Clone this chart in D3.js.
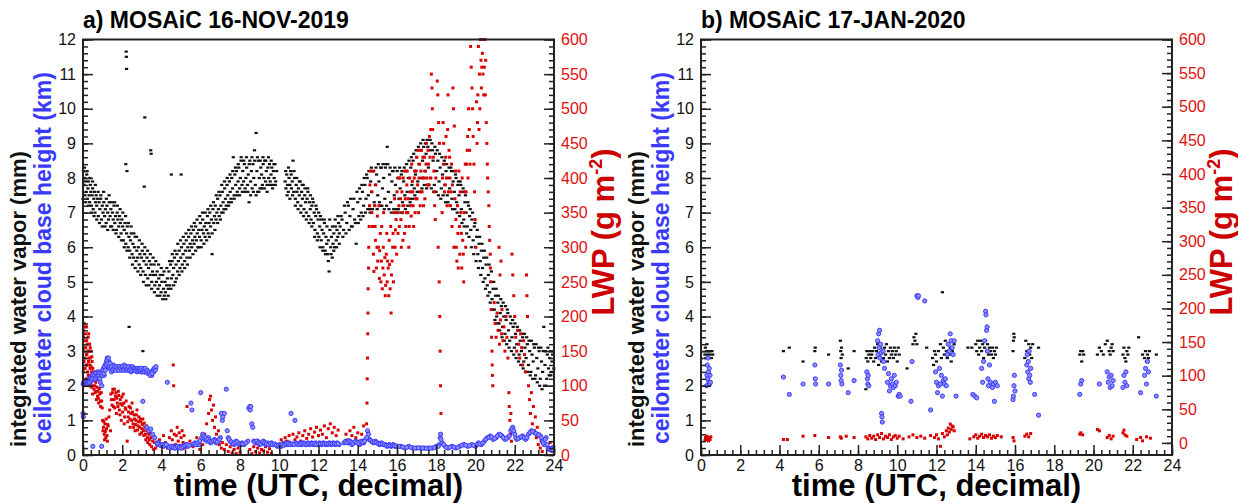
<!DOCTYPE html>
<html>
<head>
<meta charset="utf-8">
<script src="https://cdn.jsdelivr.net/npm/d3@7"></script>
<style>
  body { margin: 0; background: #fff; }
  svg text { font-family: "Liberation Sans", Arial, sans-serif; }
</style>
</head>
<body>
<div id="chart"></div>
<script>
// tick labels
const iwvTicks = [0, 1, 2, 3, 4, 5, 6, 7, 8, 9, 10, 11, 12];
const lwpTicks = [0, 50, 100, 150, 200, 250, 300, 350, 400, 450, 500, 550, 600];
const timeTicks = [0, 2, 4, 6, 8, 10, 12, 14, 16, 18, 20, 22, 24];

// a) 16-NOV-2019 : integrated water vapor (mm), [time, value]
const iwvA = [[0.02,8.2],[0.05,7.8],[0.08,8.0],[0.10,7.5],[0.13,7.9],[0.16,7.6],[0.19,8.1],[0.22,7.4],[0.25,7.7],[0.28,7.9],[0.31,7.5],[0.34,7.3],[0.37,7.8],[0.40,7.6],[0.43,7.2],[0.46,7.5],[0.49,7.7],[0.52,7.1],[0.55,7.4],[0.58,7.6],[0.61,7.0],[0.64,7.3],[0.67,7.5],[0.70,7.2],[0.74,7.4],[0.78,6.9],[0.82,7.3],[0.86,7.1],[0.90,7.4],[0.94,6.8],[0.98,7.2],[1.02,7.0],[1.06,7.3],[1.10,6.9],[1.14,7.1],[1.18,6.7],[1.22,7.2],[1.26,7.0],[1.30,6.8],[1.34,7.3],[1.38,6.9],[1.42,7.1],[1.46,6.6],[1.50,7.0],[1.54,6.8],[1.58,7.2],[1.62,6.7],[1.66,6.9],[1.70,6.5],[1.74,7.0],[1.78,6.8],[1.82,6.6],[1.86,6.9],[1.90,6.7],[1.94,6.4],[1.98,6.8],[2.02,6.6],[2.06,6.2],[2.10,6.5],[2.14,6.7],[2.18,6.1],[2.22,6.4],[2.26,6.6],[2.30,6.0],[2.34,6.3],[2.38,5.9],[2.42,6.2],[2.46,6.4],[2.50,5.8],[2.54,6.1],[2.58,5.7],[2.62,6.0],[2.66,6.3],[2.70,5.6],[2.74,5.9],[2.78,5.7],[2.82,6.0],[2.86,5.5],[2.90,5.8],[2.94,5.4],[2.98,5.7],[3.02,5.9],[3.06,5.3],[3.10,5.6],[3.14,5.8],[3.18,5.2],[3.22,5.5],[3.26,5.7],[3.30,5.1],[3.34,5.4],[3.38,5.6],[3.42,5.2],[3.46,5.5],[3.50,5.0],[3.54,5.3],[3.58,5.2],[3.62,5.5],[3.66,4.9],[3.70,5.2],[3.74,5.0],[3.78,5.3],[3.82,4.8],[3.86,5.1],[3.90,4.9],[3.94,5.2],[3.98,4.7],[4.02,5.0],[4.06,5.2],[4.10,4.8],[4.14,4.6],[4.18,5.0],[4.22,4.5],[4.26,4.9],[4.30,5.1],[4.34,4.8],[4.38,5.3],[4.42,4.9],[4.46,5.5],[4.50,5.1],[4.54,5.6],[4.58,5.2],[4.62,5.4],[4.66,5.7],[4.70,5.0],[4.74,5.5],[4.78,5.8],[4.82,5.3],[4.86,5.6],[4.90,5.9],[4.94,5.4],[4.98,5.7],[5.02,6.0],[5.06,5.5],[5.10,5.8],[5.14,6.1],[5.18,5.6],[5.22,5.9],[5.26,6.2],[5.30,5.7],[5.34,6.0],[5.38,6.3],[5.42,5.9],[5.46,6.1],[5.50,6.4],[5.54,6.0],[5.58,6.2],[5.62,6.5],[5.66,6.1],[5.70,6.3],[5.74,6.6],[5.78,6.2],[5.82,6.4],[5.86,6.0],[5.90,6.5],[5.94,6.3],[5.98,6.7],[6.02,6.2],[6.06,6.5],[6.10,6.8],[6.14,6.4],[6.18,6.6],[6.22,6.3],[6.26,6.7],[6.30,6.5],[6.34,6.9],[6.38,6.4],[6.42,6.7],[6.46,7.0],[6.50,6.6],[6.54,6.8],[6.58,5.8],[6.62,7.1],[6.66,6.7],[6.70,6.9],[6.74,7.2],[6.78,6.8],[6.82,7.0],[6.86,7.4],[6.90,7.1],[6.94,6.9],[6.98,7.5],[7.02,7.2],[7.06,7.0],[7.10,7.6],[7.14,7.3],[7.18,7.1],[7.22,7.7],[7.26,7.4],[7.30,7.2],[7.34,7.8],[7.38,7.5],[7.42,7.3],[7.46,7.9],[7.50,7.6],[7.54,7.4],[7.58,8.0],[7.62,7.7],[7.66,8.6],[7.70,7.5],[7.74,8.1],[7.78,7.8],[7.82,8.2],[7.86,7.6],[7.90,7.9],[7.94,8.3],[7.98,7.7],[8.02,8.0],[8.06,8.6],[8.10,7.8],[8.14,8.2],[8.18,7.9],[8.22,8.4],[8.26,7.6],[8.30,8.0],[8.34,8.3],[8.38,7.8],[8.42,8.1],[8.46,7.3],[8.50,8.5],[8.54,7.9],[8.58,8.2],[8.62,7.7],[8.66,8.4],[8.70,8.0],[8.74,8.8],[8.78,7.8],[8.82,9.3],[8.86,8.2],[8.90,7.6],[8.94,8.5],[8.98,8.0],[9.02,7.7],[9.06,8.3],[9.10,8.1],[9.14,7.8],[9.18,8.4],[9.22,8.0],[9.26,8.5],[9.30,7.9],[9.34,8.2],[9.38,7.8],[9.42,8.3],[9.46,8.0],[9.50,8.4],[9.54,7.9],[9.58,8.1],[9.62,8.3],[9.66,7.8],[9.70,8.2],[9.74,8.0],[9.78,8.4],[9.82,7.9],
  [10.30,7.9],[10.34,7.7],[10.38,8.1],[10.42,7.8],[10.46,7.6],[10.50,8.0],[10.54,7.8],[10.58,8.2],[10.62,7.7],[10.66,7.9],[10.70,8.5],[10.74,7.6],[10.78,8.0],[10.82,7.4],[10.86,7.8],[10.90,7.6],[10.94,7.3],[10.98,7.7],[11.02,7.5],[11.06,7.9],[11.10,7.2],[11.14,7.6],[11.18,7.4],[11.22,7.8],[11.26,7.1],[11.30,7.5],[11.34,7.3],[11.38,7.0],[11.42,7.4],[11.46,7.6],[11.50,6.9],[11.54,7.3],[11.58,7.1],[11.62,6.8],[11.66,7.2],[11.70,7.4],[11.74,6.7],[11.78,7.0],[11.82,6.5],[11.86,6.9],[11.90,7.1],[11.94,6.4],[11.98,6.8],[12.02,6.3],[12.06,6.6],[12.10,6.9],[12.14,6.2],[12.18,6.5],[12.22,6.0],[12.26,6.4],[12.30,6.7],[12.34,5.9],[12.38,6.3],[12.42,6.1],[12.46,5.8],[12.50,6.2],[12.54,5.3],[12.58,6.5],[12.62,6.0],[12.66,6.3],[12.70,5.7],[12.74,6.1],[12.78,6.4],[12.82,6.0],[12.86,6.6],[12.90,6.2],[12.94,6.5],[12.98,6.3],[13.02,6.7],[13.06,6.4],[13.10,6.6],
  [13.20,6.8],[13.28,6.5],[13.36,7.0],[13.44,6.7],[13.52,7.2],[13.60,6.9],[13.68,6.6],[13.76,7.1],[13.84,6.8],[13.92,6.1],[14.00,7.3],[14.06,6.9],[14.12,7.4],[14.18,7.0],[14.24,7.6],[14.30,7.2],[14.36,7.8],[14.42,7.4],[14.48,8.0],[14.54,7.5],[14.60,7.1],[14.66,7.9],[14.72,7.6],[14.78,8.2],[14.84,7.3],[14.90,7.8],[14.96,8.1],[15.02,7.5],[15.08,7.9],[15.14,7.2],[15.20,8.3],[15.26,7.7],[15.32,8.0],[15.38,7.4],[15.44,8.4],[15.50,8.9],[15.56,7.6],[15.62,8.1],[15.68,7.3],[15.74,7.9],[15.80,8.2],[15.86,7.5],[15.92,7.8],[15.98,7.1],[16.04,8.0],[16.10,7.4],[16.16,7.7],[16.22,8.1],[16.28,7.3],[16.34,7.9],[16.40,7.5],[16.46,8.2],[16.52,7.6],[16.58,8.0],[16.64,7.4],[16.70,8.3],[16.76,7.8],[16.82,8.5],[16.88,7.7],[16.94,8.1],[17.00,8.6],[17.06,7.9],[17.12,8.4],[17.18,8.8],[17.24,8.0],[17.30,8.5],[17.36,8.9],[17.42,8.2],[17.48,8.7],[17.54,9.1],[17.60,8.3],[17.66,8.8],[17.72,8.0],[17.78,9.0],[17.84,8.5],[17.90,7.8],[17.96,8.7],[18.02,8.2],[18.08,8.5],[18.14,7.9],[18.20,8.3],[18.26,7.7],[18.32,8.1],[18.38,8.4],[18.44,7.8],[18.50,8.2],[18.56,7.5],[18.62,8.0],[18.68,7.7],[18.74,8.3],[18.80,7.4],[18.86,7.9],[18.92,7.6],[18.98,8.1],[19.04,7.3],[19.10,7.8],[19.16,7.5],[19.22,7.9],[19.28,7.1],[19.34,7.6],[19.40,6.8],[19.46,7.3],[19.52,7.0],[19.58,6.6],[19.64,7.2],[19.70,6.9],[19.76,6.5],[19.82,6.8],[19.88,6.2],[19.94,6.6],[20.00,6.0],[20.06,6.3],[20.12,5.8],[20.18,6.1],[20.24,5.6],[20.30,5.9],[20.36,5.4],[20.42,5.7],[20.48,5.1],[20.54,5.5],[20.60,4.9],[20.66,5.2],[20.72,4.7],[20.78,5.0],[20.84,4.5],[20.90,4.8],[20.96,4.2],[21.02,4.6],[21.08,4.0],[21.14,4.4],[21.20,3.8],[21.26,4.1],[21.32,4.3],[21.38,3.7],[21.44,4.0],[21.50,3.5],[21.56,3.9],[21.62,4.2],[21.68,3.6],[21.74,3.3],[21.80,3.8],[21.86,3.4],[21.92,3.7],[21.98,3.1],[22.04,3.5],[22.10,3.2],[22.16,3.6],[22.22,2.9],[22.28,3.3],[22.34,3.0],[22.40,3.4],[22.46,2.7],[22.52,3.1],[22.58,2.8],[22.64,3.2],[22.70,2.6],[22.76,3.0],[22.82,2.4],[22.88,2.9],[22.94,2.7],[23.00,3.1],[23.06,2.3],[23.12,2.8],[23.18,2.5],[23.24,3.0],[23.30,2.2],[23.36,2.7],[23.42,2.4],[23.48,3.7],[23.54,2.6],[23.60,2.0],[23.66,2.9],[23.72,2.5],[23.78,2.8],[23.84,2.3],[23.90,2.7],[23.96,3.0],
  [2.20,11.65],[2.21,11.5],[2.22,11.15],[2.18,8.4],[2.24,8.2],[3.15,9.75],[3.45,8.8],[3.47,8.7],[3.12,7.75],[4.50,8.1],[5.00,8.1],[2.35,3.7],[3.05,3.0],
  [0.00,7.4],[0.07,8.3],[0.14,7.3],[0.21,8.2],[0.28,7.2],[0.35,8.0],[0.42,7.0],[0.49,7.9],[0.56,6.9],[0.63,7.8],[0.70,6.8],[0.77,7.6],[0.84,6.7],[0.91,7.5],[0.98,6.6],[1.05,7.6],[1.12,6.6],[1.19,7.4],[1.26,6.5],[1.33,7.5],[1.40,6.6],[1.47,7.3],[1.54,6.5],[1.61,7.3],[1.68,6.4],[1.75,7.2],[1.82,6.3],[1.89,7.1],[1.96,6.2],[2.03,7.0],[2.10,6.0],[2.17,6.9],[2.24,5.9],[2.31,6.7],[2.38,5.7],[2.45,6.6],[2.52,5.5],[2.59,6.4],[2.66,5.4],[2.73,6.3],[2.80,5.3],[2.87,6.2],[2.94,5.2],[3.01,6.1],[3.08,5.0],[3.15,6.0],[3.22,4.9],[3.29,5.9],[3.36,4.9],[3.43,5.8],[3.50,4.8],[3.57,5.7],[3.64,4.7],[3.71,5.6],[3.78,4.6],[3.85,5.5],[3.92,4.6],[3.99,5.4],[4.06,4.5],[4.13,5.3],[4.20,4.7],[4.27,5.4],[4.34,4.6],[4.41,5.6],[4.48,4.8],[4.55,5.8],[4.62,4.9],[4.69,5.9],[4.76,5.1],[4.83,6.1],[4.90,5.2],[4.97,6.2],[5.04,5.3],[5.11,6.3],[5.18,5.4],[5.25,6.4],[5.32,5.5],[5.39,6.5],[5.46,5.7],[5.53,6.6],[5.60,5.8],[5.67,6.7],[5.74,5.9],[5.81,6.8],[5.88,6.0],[5.95,6.9],[6.02,6.0],[6.09,7.0],[6.16,6.1],[6.23,7.0],[6.30,6.2],[6.37,7.1],[6.44,6.3],[6.51,7.2],[6.58,6.4],[6.65,7.3],[6.72,6.5],[6.79,7.5],[6.86,6.7],[6.93,7.6],[7.00,6.8],[7.07,7.8],[7.14,7.0],[7.21,7.9],[7.28,7.1],[7.35,8.0],[7.42,7.2],[7.49,8.1],[7.56,7.3],[7.63,8.2],[7.70,7.4],[7.77,8.3],[7.84,7.5],[7.91,8.4],[7.98,7.5],[8.05,8.5],[8.12,7.6],[8.19,8.5],[8.26,7.7],[8.33,8.6],[8.40,7.6],[8.47,8.4],[8.54,7.5],[8.61,8.6],[8.68,7.6],[8.75,8.5],[8.82,7.5],[8.89,8.6],[8.96,7.6],[9.03,8.5],[9.10,7.7],[9.17,8.6],[9.24,7.7],[9.31,8.5],[9.38,7.6],[9.45,8.6],[9.52,7.8],[9.59,8.5],[9.66,7.7],[9.73,8.4],[9.80,7.8],[9.87,8.2],
  [10.33,8.2],[10.40,7.5],[10.47,8.3],[10.54,7.4],[10.61,8.1],[10.68,7.5],[10.75,8.2],[10.82,7.2],[10.89,8.0],[10.96,7.1],[11.03,7.9],[11.10,7.0],[11.17,7.8],[11.24,6.9],[11.31,7.7],[11.38,6.8],[11.45,7.7],[11.52,6.7],[11.59,7.5],[11.66,6.6],[11.73,7.3],[11.80,6.3],[11.87,7.2],[11.94,6.2],[12.01,7.0],[12.08,6.0],[12.15,6.8],[12.22,5.9],[12.29,6.8],[12.36,5.8],[12.43,6.6],[12.50,5.6],[12.57,6.8],[12.64,5.8],[12.71,6.6],[12.78,5.9],[12.85,6.8],[12.92,6.0],[12.99,6.9],[13.06,6.1],[13.15,6.9],[13.24,6.3],[13.32,7.2],[13.40,6.4],[13.48,7.3],[13.56,6.5],[13.64,7.4],[13.72,6.6],[13.80,7.4],[13.88,6.7],[13.96,7.6],[14.03,6.7],[14.09,7.7],[14.15,6.8],[14.21,7.8],[14.27,6.9],[14.33,8.0],[14.39,7.0],[14.45,8.1],[14.51,7.1],[14.57,8.2],[14.63,7.0],[14.69,8.3],[14.75,7.1],[14.81,8.2],[14.87,7.2],[14.93,8.3],[14.99,7.1],[15.05,8.4],[15.11,7.3],[15.17,8.3],[15.23,7.2],[15.29,8.4],[15.35,7.1],[15.41,8.3],[15.47,7.2],[15.53,8.4],[15.59,7.1],[15.65,8.3],[15.71,7.0],[15.77,8.2],[15.83,7.1],[15.89,8.3],[15.95,7.0],[16.01,8.2],[16.07,7.1],[16.13,8.3],[16.19,7.0],[16.25,8.2],[16.31,7.2],[16.37,8.3],[16.43,7.1],[16.49,8.4],[16.55,7.2],[16.61,8.5],[16.67,7.3],[16.73,8.6],[16.79,7.4],[16.85,8.7],[16.91,7.5],[16.97,8.8],[17.03,7.6],[17.09,8.9],[17.15,7.6],[17.21,9.0],[17.27,7.7],[17.33,9.1],[17.39,7.8],[17.45,9.0],[17.51,7.7],[17.57,8.9],[17.63,7.8],[17.69,9.1],[17.75,7.7],[17.81,8.8],[17.87,7.6],[17.93,8.9],[17.99,7.6],[18.05,8.8],[18.11,7.5],[18.17,8.7],[18.23,7.4],[18.29,8.6],[18.35,7.5],[18.41,8.5],[18.47,7.3],[18.53,8.4],[18.59,7.3],[18.65,8.3],[18.71,7.2],[18.77,8.2],[18.83,7.1],[18.89,8.2],[18.95,7.1],[19.01,8.0],[19.07,7.0],[19.13,7.9],[19.19,6.9],[19.25,7.8],[19.31,6.7],[19.37,7.7],[19.43,6.6],[19.49,7.5],[19.55,6.4],[19.61,7.3],[19.67,6.3],[19.73,7.1],[19.79,6.0],[19.85,7.0],[19.91,5.8],[19.97,6.7],[20.03,5.6],[20.09,6.5],[20.15,5.4],[20.21,6.3],[20.27,5.2],[20.33,6.1],[20.39,5.0],[20.45,5.9],[20.51,4.8],[20.57,5.7],[20.63,4.6],[20.69,5.5],[20.75,4.4],[20.81,5.3],[20.87,4.2],[20.93,5.0],[20.99,3.9],[21.05,4.8],[21.11,3.8],[21.17,4.6],[21.23,3.6],[21.29,4.5],[21.35,3.4],[21.41,4.4],[21.47,3.3],[21.53,4.3],[21.59,3.2],[21.65,4.1],[21.71,3.1],[21.77,4.0],[21.83,3.0],[21.89,3.9],[21.95,2.9],[22.01,3.8],[22.07,2.8],[22.13,3.7],[22.19,2.7],[22.25,3.6],[22.31,2.6],[22.37,3.5],[22.43,2.5],[22.49,3.5],[22.55,2.4],[22.61,3.4],[22.67,2.4],[22.73,3.3],[22.79,2.3],[22.85,3.3],[22.91,2.2],[22.97,3.2],[23.03,2.2],[23.09,3.2],[23.15,2.1],[23.21,3.1],[23.27,2.0],[23.33,3.1],[23.39,1.9],[23.45,3.0],[23.51,2.0],[23.57,3.0],[23.63,2.2],[23.69,3.1],[23.75,2.3],[23.81,3.0],[23.87,2.4],[23.93,2.9],[23.99,2.5]];

// a) liquid water path (g m-2)
const lwpA = [[0.02,180],[0.04,150],[0.06,190],[0.08,165],[0.10,140],[0.12,175],[0.14,155],[0.16,130],[0.18,185],[0.20,145],[0.22,160],[0.24,120],[0.26,170],[0.28,135],[0.30,150],[0.32,115],[0.34,160],[0.36,125],[0.38,140],[0.40,105],[0.42,150],[0.44,120],[0.46,135],[0.48,100],[0.50,125],[0.53,110],[0.56,95],[0.59,115],[0.62,90],[0.65,105],[0.68,80],[0.71,98],[0.74,85],[0.77,92],[0.80,75],[0.85,88],[0.90,70],[0.95,78],[1.00,50],[1.04,40],[1.08,30],[1.12,45],[1.16,25],[1.20,38],[1.24,20],[1.28,42],[1.32,55],[1.36,65],[1.40,35],[1.45,80],[1.50,90],[1.55,70],[1.60,95],[1.65,85],[1.70,60],[1.75,75],[1.80,92],[1.85,65],[1.90,80],[1.95,50],[2.00,72],[2.05,88],[2.10,45],[2.15,68],[2.20,78],[2.25,20],[2.30,55],[2.35,70],[2.40,40],[2.45,60],[2.50,75],[2.55,45],[2.60,58],[2.65,35],[2.70,50],[2.75,65],[2.80,42],[2.85,55],[2.90,30],[2.95,48],[3.00,38],[3.05,52],[3.10,28],[3.15,40],[3.20,22],[3.25,35],[3.30,18],[3.35,30],[3.40,15],[3.45,25],[3.50,12],[3.55,20],[3.60,8],[3.65,18],[3.70,10],[3.80,15],[3.90,22],[4.00,12],[4.10,28],[4.20,18],[4.30,10],[4.40,25],[4.50,35],[4.55,22],[4.60,130],[4.62,100],[4.65,30],[4.70,15],[4.75,28],[4.80,40],[4.85,20],[4.90,32],[4.95,12],[5.00,25],[5.05,35],[5.10,18],[5.15,28],[5.20,10],[5.30,70],[5.45,20],[5.60,12],[5.80,25],[5.95,8],[6.10,15],[6.20,30],[6.30,45],[6.40,60],[6.45,80],[6.50,85],[6.55,65],[6.60,50],[6.65,72],[6.70,40],[6.75,55],[6.80,30],[6.85,20],[6.90,35],[6.95,15],[7.00,25],[7.05,10],[7.10,18],[7.20,8],[7.30,15],[7.40,5],[7.50,12],[7.60,3],[7.70,8],[7.80,2],[7.90,10],[8.00,4],[8.50,8],[8.60,2],[8.70,12],[8.80,5],[8.90,10],[9.00,3],[9.10,8],[9.20,6],[9.30,12],[9.40,4],[9.50,9],[9.60,2],[10.00,15],[10.10,22],[10.20,18],[10.30,25],[10.40,20],[10.50,28],[10.60,17],[10.70,30],[10.80,22],[10.90,26],[11.00,32],[11.10,20],[11.20,28],[11.30,35],[11.40,24],[11.50,30],[11.60,38],[11.70,26],[11.80,33],[11.90,40],[12.00,28],[12.10,36],[12.20,30],[12.30,42],[12.40,25],[12.50,38],[12.60,45],[12.70,32],[12.80,40],[12.90,28],[13.00,36],[13.40,30],[13.50,22],[13.60,35],[13.70,28],[13.80,40],[13.90,25],[14.00,32],[14.10,20],[14.20,30],[14.30,42],
  [14.45,45],[14.47,75],[14.48,110],[14.50,140],[14.51,175],[14.52,205],[14.53,240],[14.55,270],[14.56,300],[14.58,330],[14.60,360],[14.62,390],[14.65,410],
  [14.70,380],[14.75,330],[14.80,290],[14.85,360],[14.90,310],[14.95,270],[15.00,345],[15.05,300],[15.10,255],[15.15,320],[15.20,280],[15.25,240],[15.30,300],[15.35,260],[15.40,230],[15.45,290],[15.50,250],[15.55,270],[15.60,310],[15.65,240],[15.70,205],[15.75,280],[15.80,320],[15.85,350],[15.90,300],[15.95,340],[16.00,380],[16.05,320],[16.10,360],[16.15,400],[16.20,340],[16.25,380],[16.30,310],[16.35,360],[16.40,410],[16.45,330],[16.50,390],[16.55,350],[16.60,300],[16.65,400],[16.70,360],[16.75,420],[16.80,380],[16.85,330],[16.90,410],[16.95,370],[17.00,430],[17.05,390],[17.10,350],[17.15,420],[17.20,380],[17.25,440],[17.30,400],[17.35,360],[17.40,430],[17.45,410],[17.50,450],[17.55,390],[17.60,420],[17.65,460],[17.70,400],[17.75,550],[17.78,530],[17.80,500],[17.82,470],[17.85,430],[17.90,380],[17.95,340],
  [18.05,540],[18.08,520],[18.12,480],[18.16,450],[18.10,300],[18.15,250],[18.18,200],[18.20,150],[18.22,100],[18.24,60],[18.25,30],
  [18.30,350],[18.35,480],[18.40,420],[18.45,390],[18.50,460],[18.55,360],[18.60,520],[18.65,440],[18.70,400],[18.75,380],[18.80,330],[18.85,530],[18.88,500],[18.92,475],[18.90,300],[18.95,370],[19.00,340],[19.05,280],[19.10,320],[19.15,410],[19.20,290],[19.25,350],[19.30,270],[19.35,310],[19.40,250],[19.45,380],[19.50,300],[19.55,420],[19.60,460],[19.65,500],[19.70,440],[19.75,590],[19.78,560],[19.82,530],[19.85,500],[19.88,460],[19.92,420],[19.95,380],[19.98,340],[20.02,300],[20.05,510],[20.10,480],[20.15,590],[20.20,550],[20.25,600],[20.28,570],[20.30,530],[20.35,580],[20.38,550],[20.40,600],[20.42,520],[20.45,560],[20.50,520],[20.55,480],
  [20.60,420],[20.65,380],[20.70,330],[20.75,290],[20.78,250],[20.80,210],[20.82,170],[20.85,130],[20.88,100],
  [20.95,220],[21.00,190],[21.05,170],[21.10,205],[21.15,180],[21.20,300],[21.22,160],[21.25,260],[21.27,195],[21.30,280],[21.33,175],[21.35,210],[21.40,165],[21.45,185],[21.50,150],[21.55,200],[21.60,170],[21.65,140],[21.70,90],[21.72,70],[21.75,50],[21.78,30],[21.80,60],[21.83,20],[21.86,290],[21.88,40],[21.90,260],[21.95,230],[22.00,200],[22.05,170],[22.10,150],[22.15,180],[22.20,160],[22.25,140],[22.30,175],[22.35,155],[22.40,130],[22.45,165],[22.50,145],[22.55,120],[22.60,260],[22.62,230],[22.65,200],[22.70,100],[22.75,80],[22.80,60],[22.85,90],[22.90,45],[22.95,70],[23.00,35],[23.05,55],[23.10,25],[23.15,40],[23.20,15],[23.25,30],[23.30,10],[23.35,20],[23.40,5],[23.50,15],[23.60,25],[23.70,10],[23.80,18],[23.90,5],[23.95,12],
  [0.01,120],[0.03,170],[0.05,135],[0.07,100],[0.09,155],[0.11,125],[0.13,185],[0.15,110],[0.17,145],[0.19,165],[0.21,130],[0.23,105],[0.25,150],[0.27,115],[0.29,175],[0.31,140],[0.33,100],[0.35,130],[0.37,155],[0.39,112],[0.41,128],[0.43,98],[0.45,142],[0.47,115],[0.49,88],[0.55,120],[0.60,100],[0.66,92],[0.72,110],[0.78,82],[0.83,96],[0.88,78],[0.93,90],[0.98,68],
  [1.02,35],[1.06,48],[1.10,22],[1.14,34],[1.18,52],[1.22,28],[1.26,44],[1.42,88],[1.48,72],[1.52,95],[1.58,80],[1.62,68],[1.68,90],[1.72,82],[1.78,70],[1.82,86],[1.88,58],[1.92,74],[1.98,84],[2.02,62],[2.08,75],[2.12,55],[2.18,66],[2.28,48],[2.32,62],[2.38,52],[2.42,68],[2.48,50],[2.52,62],[2.58,40],[2.62,52],[2.68,44],[2.72,58],[2.78,36],[2.82,48],[2.88,40],[2.92,52],[2.98,32],[3.02,44],[3.08,35],[3.12,46],[3.18,30],[3.22,42],[3.28,25],[3.32,36],[3.38,22],[3.42,32],
  [14.72,350],[14.78,410],[14.82,265],[14.88,330],[14.92,390],[14.98,300],[15.02,280],[15.08,360],[15.12,295],[15.18,250],[15.22,330],[15.28,270],[15.32,350],[15.38,285],[15.42,245],[15.48,320],[15.52,280],[15.58,230],[15.62,275],[15.68,330],[15.72,260],[15.78,300],[15.82,250],[15.88,370],[15.92,325],[15.98,290],[16.02,350],[16.08,400],[16.12,330],[16.18,370],[16.22,300],[16.28,350],[16.32,400],[16.38,320],[16.42,370],[16.48,350],[16.52,410],[16.58,370],[16.62,330],[16.68,380],[16.72,345],[16.78,395],[16.82,360],[16.88,400],[16.92,350],[16.98,410],[17.02,370],[17.08,440],[17.12,400],[17.18,360],[17.22,410],[17.28,380],[17.32,430],[17.38,400],[17.42,370],[17.48,420],[17.52,400],[17.58,440],[17.62,390],[17.68,430],[17.72,470],[17.88,410],[17.92,360],[17.98,400],
  [18.32,400],[18.38,450],[18.42,380],[18.48,430],[18.52,400],[18.58,470],[18.62,380],[18.68,430],[18.72,360],[18.78,420],[18.82,390],[18.98,410],[19.02,300],[19.08,360],[19.12,270],[19.18,330],[19.22,380],[19.28,320],[19.32,400],[19.38,290],[19.42,350],[19.48,420],[19.52,380],[19.58,440],[19.62,400],[19.68,470],[19.72,420],[20.08,450],[20.12,520],[20.18,470],[20.22,500],[20.32,560],[20.48,600],[20.52,570],[20.58,450],
  [20.62,400],[20.68,360],[20.72,310],[20.76,270],[20.84,150],[20.86,115]];

// a) ceilometer cloud base height (km)
const cbhA = [[0.00,1.2],[0.02,1.1],[0.03,2.05],[0.06,2.05],[0.09,2.1],[0.12,2.05],[0.15,2.1],[0.18,2.05],[0.21,2.1],[0.24,2.1],[0.27,2.15],[0.30,2.1],[0.33,2.2],[0.36,2.1],[0.40,2.25],[0.44,2.15],[0.48,2.3],[0.50,0.25],[0.52,2.2],[0.56,2.35],[0.60,2.25],[0.64,2.3],[0.68,2.2],[0.72,2.4],[0.76,2.3],[0.80,2.25],[0.84,2.4],[0.88,2.1],[0.92,2.3],[0.95,0.25],[0.96,2.0],[1.00,2.4],[1.04,2.5],[1.08,2.3],[1.12,2.6],[1.16,2.5],[1.20,2.7],[1.24,2.8],[1.28,2.6],[1.32,2.7],[1.36,2.5],[1.40,2.6],[1.45,2.4],[1.50,2.5],[1.55,2.6],[1.60,2.45],[1.65,2.55],[1.70,2.5],[1.75,2.45],[1.80,2.55],[1.85,2.5],[1.90,2.45],[1.95,2.55],[2.00,2.5],[2.05,2.5],[2.10,2.6],[2.15,2.45],[2.20,2.5],[2.25,2.55],[2.30,2.45],[2.35,2.5],[2.40,2.55],[2.45,2.4],[2.50,2.5],[2.55,2.45],[2.60,2.5],[2.65,2.45],[2.70,2.5],[2.75,2.4],[2.80,2.5],[2.85,2.45],[2.90,2.5],[2.95,2.4],[3.00,2.45],[3.05,1.55],[3.10,2.5],[3.15,2.4],[3.20,2.45],[3.25,0.8],[3.30,2.4],[3.35,0.7],[3.40,2.35],[3.45,0.75],[3.50,2.3],[3.55,0.6],[3.60,2.4],[3.65,0.5],[3.70,2.5],[3.75,0.35],[3.80,0.3],[3.85,0.35],[3.90,0.3],[4.00,0.3],[4.10,0.25],[4.20,0.3],[4.30,2.1],[4.35,0.25],[4.45,0.2],[4.55,0.25],[4.65,0.2],[4.75,0.25],[4.85,0.2],[4.95,0.25],[5.05,0.2],[5.15,0.25],[5.25,0.3],[5.35,0.25],[5.50,1.5],[5.55,1.3],[5.60,0.3],[5.70,0.35],[5.80,0.3],[5.90,0.3],[6.00,1.8],[6.05,0.5],[6.10,0.6],[6.20,0.45],[6.30,0.4],[6.40,0.5],[6.50,0.35],[6.60,0.4],[6.70,0.45],[6.80,0.35],[6.90,0.4],[7.00,0.5],[7.05,1.2],[7.10,1.0],[7.12,1.1],[7.20,1.2],[7.30,1.9],[7.35,0.7],[7.40,0.5],[7.50,0.4],[7.60,0.35],[7.70,0.3],[7.80,0.4],[7.90,0.35],[8.00,0.3],[8.10,0.35],[8.20,0.3],[8.40,0.4],[8.45,1.35],[8.50,1.4],[8.52,1.3],[8.55,1.4],[8.60,0.9],[8.65,0.8],[8.70,0.4],[8.80,0.35],[8.90,0.4],[9.00,0.3],[9.10,0.35],[9.20,0.4],[9.30,0.3],[9.40,0.35],[9.50,0.3],[9.60,0.35],[9.70,0.3],[9.80,0.3],[9.90,0.25],[10.00,0.3],[10.10,0.25],[10.20,0.3],[10.30,0.35],[10.40,0.3],[10.50,0.35],[10.60,1.2],[10.70,0.3],[10.80,1.0],[10.85,0.35],[10.95,0.3],[11.05,0.35],[11.15,0.3],[11.25,0.35],[11.35,0.3],[11.45,0.35],[11.55,0.3],[11.65,0.35],[11.75,0.3],[11.85,0.35],[11.95,0.3],[12.05,0.35],[12.15,0.3],[12.25,0.35],[12.35,0.3],[12.45,0.3],[12.55,0.35],[12.65,0.3],[12.75,0.35],[12.85,0.3],[12.95,0.35],[13.05,0.3],[13.30,0.35],[13.40,0.4],[13.50,0.35],[13.60,0.4],[13.70,0.3],[13.80,0.35],[13.90,0.4],[14.00,0.35],[14.10,0.3],[14.20,0.4],[14.30,0.35],[14.40,0.45],[14.50,0.7],[14.55,0.6],[14.60,0.45],[14.70,0.4],[14.80,0.35],[14.90,0.4],[15.00,0.35],[15.10,0.3],[15.20,0.35],[15.30,0.3],[15.40,0.3],[15.50,0.25],[15.60,0.3],[15.70,0.25],[15.80,0.3],[15.90,0.25],[16.00,0.25],[16.20,0.25],[16.40,0.2],[16.60,0.25],[16.80,0.2],[17.00,0.2],[17.20,0.2],[17.40,0.2],[17.60,0.2],[17.80,0.2],[18.00,0.25],[18.15,0.3],[18.22,0.6],[18.30,0.35],[18.45,0.25],[18.60,0.2],[18.80,0.25],[19.00,0.2],[19.20,0.25],[19.40,0.3],[19.60,0.25],[19.80,0.3],[20.00,0.25],[20.15,0.35],[20.30,0.3],[20.45,0.4],[20.60,0.5],[20.75,0.55],[20.90,0.45],[21.05,0.5],[21.20,0.6],[21.35,0.55],[21.50,0.45],[21.65,0.5],[21.80,0.7],[21.90,0.8],[22.00,0.6],[22.10,0.45],[22.25,0.5],[22.40,0.55],[22.55,0.45],[22.70,0.6],[22.85,0.7],[23.00,0.65],[23.15,0.6],[23.30,0.55],[23.40,0.4],[23.50,0.3],[23.60,0.5],[23.70,0.2],[23.80,0.15],[23.90,0.2],
  [0.01,2.05],[0.04,2.1],[0.07,2.05],[0.10,2.05],[0.13,2.1],[0.16,2.05],[0.19,2.1],[0.22,2.05],[0.25,2.1],[0.28,2.1],[0.31,2.15],[0.34,2.1],[0.38,2.2],[0.42,2.15],[0.46,2.2],[0.54,2.25],[0.58,2.3],[0.62,2.2],[0.66,2.35],[0.70,2.25],[0.74,2.3],[0.78,2.35],[0.82,2.3],[0.86,2.2],[0.90,2.35],[0.98,2.3],[1.02,2.45],[1.06,2.35],[1.10,2.55],[1.14,2.45],[1.18,2.6],[1.22,2.75],[1.26,2.65],[1.30,2.8],[1.34,2.55],[1.38,2.65],[1.42,2.5],[1.47,2.55],[1.52,2.45],[1.57,2.5],[1.62,2.55],[1.67,2.45],[1.72,2.55],[1.77,2.5],[1.82,2.45],[1.87,2.55],[1.92,2.5],[1.97,2.45],[2.02,2.55],[2.07,2.45],[2.12,2.5],[2.17,2.55],[2.22,2.45],[2.27,2.5],[2.32,2.55],[2.37,2.45],[2.42,2.5],[2.47,2.45],[2.52,2.55],[2.57,2.5],[2.62,2.45],[2.67,2.5],[2.72,2.45],[2.77,2.5],[2.82,2.45],[2.87,2.5],[2.92,2.45],[2.97,2.5],[3.02,2.4],[3.07,2.45],[3.12,2.4],[3.17,2.5],[3.22,2.4],[3.27,2.45],[3.32,2.35],[3.37,2.4],[3.42,2.3],[3.48,2.4],[3.52,2.35],[3.58,2.45],[3.62,2.5],[3.68,2.45],[3.72,2.55],
  [3.82,0.32],[3.95,0.28],[4.05,0.3],[4.15,0.28],[4.25,0.3],[4.40,0.22],[4.50,0.25],[4.60,0.22],[4.70,0.2],[4.80,0.25],[4.90,0.22],[5.00,0.2],[5.10,0.25],[5.20,0.28],[5.30,0.3],[5.40,0.28],[5.65,0.32],[5.75,0.3],[5.85,0.35],[5.95,0.4],[6.15,0.55],[6.25,0.5],[6.35,0.45],[6.45,0.4],[6.55,0.38],[6.65,0.42],[6.75,0.4],[6.85,0.38],[6.95,0.45],[7.45,0.45],[7.55,0.38],[7.65,0.32],[7.75,0.35],[7.85,0.38],[7.95,0.32],[8.05,0.3],[8.15,0.32],[8.30,0.35],[8.75,0.38],[8.85,0.4],[8.95,0.35],[9.05,0.32],[9.15,0.38],[9.25,0.35],[9.35,0.32],[9.45,0.3],[9.55,0.33],[9.65,0.3],[9.75,0.32],[9.85,0.28],[9.95,0.27],[10.05,0.28],[10.15,0.3],[10.25,0.28],[10.35,0.32],[10.45,0.33],[10.55,0.3],[10.65,0.32],[10.75,0.3],[10.90,0.32],[11.00,0.3],[11.10,0.32],[11.20,0.33],[11.30,0.32],[11.40,0.3],[11.50,0.33],[11.60,0.32],[11.70,0.33],[11.80,0.32],[11.90,0.3],[12.00,0.33],[12.10,0.32],[12.20,0.33],[12.30,0.32],[12.40,0.33],[12.50,0.32],[12.60,0.33],[12.70,0.32],[12.80,0.33],[12.90,0.32],[13.00,0.33],[13.35,0.38],[13.45,0.36],[13.55,0.4],[13.65,0.37],[13.75,0.33],[13.85,0.38],[13.95,0.36],[14.05,0.33],[14.15,0.38],[14.25,0.37],[14.35,0.4],[14.45,0.5],[14.65,0.42],[14.75,0.38],[14.85,0.37],[14.95,0.36],[15.05,0.33],[15.15,0.32],[15.25,0.33],[15.35,0.3],[15.45,0.28],[15.55,0.27],[15.65,0.28],[15.75,0.27],[15.85,0.27],[15.95,0.26],[16.10,0.25],[16.30,0.23],[16.50,0.22],[16.70,0.22],[16.90,0.2],[17.10,0.21],[17.30,0.2],[17.50,0.19],[17.70,0.2],[17.90,0.21],[18.10,0.25],[18.20,0.5],[18.24,0.45],[18.38,0.3],[18.52,0.22],[18.70,0.22],[18.90,0.23],[19.10,0.22],[19.30,0.28],[19.50,0.28],[19.70,0.27],[19.90,0.28],[20.08,0.3],[20.22,0.32],[20.38,0.35],[20.52,0.45],[20.68,0.5],[20.82,0.52],[20.98,0.48],[21.12,0.55],[21.28,0.58],[21.42,0.5],[21.58,0.48],[21.72,0.55],[21.85,0.75],[21.95,0.7],[22.05,0.5],[22.18,0.48],[22.32,0.52],[22.48,0.5],[22.62,0.5],[22.78,0.65],[22.92,0.68],[23.08,0.62],[23.22,0.58],[23.35,0.5],[23.45,0.35],[23.55,0.45],[23.65,0.3],[23.75,0.18],[23.85,0.17],[23.95,0.15]];

// b) 17-JAN-2020
const iwvB = [[0.20,2.9],[0.22,3.1],[0.25,2.8],[0.28,3.0],[0.30,3.2],[0.33,2.9],[0.36,3.0],[0.40,2.8],[0.43,3.0],[0.46,2.9],[0.50,3.0],[0.53,2.8],[0.56,3.0],[0.60,2.9],
  [4.20,3.0],[4.50,3.1],[5.20,2.7],[5.80,3.0],[5.82,3.1],[6.50,2.9],[7.10,3.3],[7.12,3.0],[7.14,2.8],[7.16,3.1],[7.20,2.9],[7.50,2.5],[7.80,3.0],[8.40,1.9],[8.42,2.8],[8.45,3.0],[8.50,2.7],[8.55,2.9],[8.60,3.0],[8.65,2.8],[8.70,2.9],[8.75,3.0],[8.80,2.7],[8.85,3.1],[8.90,2.8],[8.95,3.0],[9.00,3.2],[9.05,2.6],[9.10,2.9],[9.15,3.1],[9.20,2.7],[9.25,3.0],[9.30,2.8],[9.35,3.1],[9.40,2.9],[9.45,3.2],[9.50,2.7],[9.55,3.0],[9.60,2.8],[9.65,3.1],[9.70,2.9],[9.75,3.0],[9.80,2.8],[9.85,3.1],[9.90,2.9],[9.95,3.0],[10.00,2.7],[10.05,3.1],[10.10,2.9],[10.50,2.5],[10.80,3.2],[10.85,3.4],[10.90,3.3],[10.95,3.5],[11.00,3.2],[11.50,3.1],[11.80,2.8],[11.85,2.6],[11.90,3.0],[11.95,2.9],[12.00,2.7],[12.10,3.0],[12.20,3.2],[12.25,2.8],[12.30,4.7],[12.35,3.1],[12.40,2.9],[12.45,3.3],[12.50,3.0],[12.55,2.8],[12.60,3.2],[12.65,2.9],[12.70,3.1],[12.75,2.7],[12.80,3.0],[12.85,3.3],[12.90,3.2],[13.60,3.1],[13.80,3.1],[14.00,3.2],[14.05,3.0],[14.10,3.3],[14.15,2.9],[14.20,3.1],[14.25,3.3],[14.30,3.0],[14.35,3.2],[14.40,2.8],[14.45,3.1],[14.50,3.3],[14.55,3.0],[14.60,3.2],[14.65,2.9],[14.70,3.1],[14.75,3.0],[14.80,2.9],[14.85,3.1],[14.90,2.8],[14.95,3.0],[15.00,2.9],[15.05,3.1],[15.90,3.0],[15.92,3.3],[15.94,3.5],[15.96,3.4],[16.50,2.8],[16.55,3.3],[16.60,3.0],[16.65,2.7],[16.70,3.2],[16.75,2.9],[16.80,3.1],[16.85,2.8],[16.90,3.2],[17.20,3.1],[19.30,2.9],[19.35,3.0],[19.40,2.7],[19.45,3.0],[19.50,2.9],[20.20,2.9],[20.30,3.1],[20.40,3.0],[20.50,2.9],[20.60,3.2],[20.70,3.3],[20.80,3.0],[20.85,2.9],[20.90,3.1],[20.95,3.2],[21.00,3.0],[21.50,2.9],[21.55,3.1],[21.60,2.8],[21.65,2.7],[21.70,3.0],[21.75,2.9],[21.80,3.1],[22.30,3.4],[22.50,2.9],[22.60,2.8],[22.65,3.0],[22.70,2.7],[22.75,2.9],[22.80,2.8],[22.85,3.0],[23.20,2.9]];

const lwpB = [[0.20,4],[0.23,8],[0.26,5],[0.30,10],[0.34,6],[0.38,3],[0.42,8],[0.46,5],[0.50,9],[4.20,5],[4.40,5],[5.20,10],[5.80,11],[6.50,8],[7.10,9],[7.15,7],[7.40,10],[7.80,8],[8.40,9],[8.50,6],[8.60,11],[8.70,7],[8.80,10],[8.90,5],[9.00,12],[9.10,8],[9.20,14],[9.30,6],[9.40,10],[9.50,8],[9.60,12],[9.70,5],[9.80,9],[9.90,11],[10.00,7],[10.10,10],[10.30,6],[10.60,9],[10.80,12],[11.00,8],[11.20,10],[11.40,7],[11.70,11],[11.90,8],[12.00,12],[12.10,6],[12.20,-5],[12.30,14],[12.40,9],[12.50,18],[12.55,12],[12.60,22],[12.65,16],[12.70,28],[12.75,20],[12.80,25],[12.85,24],[12.90,18],[13.70,6],[13.90,9],[14.00,12],[14.10,7],[14.20,10],[14.30,13],[14.40,8],[14.50,11],[14.60,9],[14.70,12],[14.80,7],[14.90,10],[15.00,8],[15.10,11],[15.30,9],[15.90,8],[15.95,3],[16.50,10],[16.60,13],[16.70,9],[16.80,14],[19.30,13],[19.35,15],[19.45,12],[20.20,20],[20.30,18],[20.70,8],[20.80,11],[20.90,6],[21.00,10],[21.50,15],[21.55,19],[21.60,12],[21.70,10],[22.20,5],[22.40,8],[22.50,3],[22.70,9],[22.90,7]];

const cbhB = [[0.28,2.0],[0.30,2.3],[0.32,2.6],[0.34,2.2],[0.36,2.8],[0.38,2.4],[0.40,2.1],[0.42,2.5],[0.44,2.05],[0.46,2.3],[0.48,2.1],
  [4.20,2.25],[4.50,1.75],[5.20,2.05],[5.80,2.6],[5.82,2.2],[5.84,2.05],[6.50,2.05],[7.10,2.6],[7.12,2.3],[7.14,2.15],[7.16,2.45],[7.18,2.05],[7.50,1.8],[7.80,2.15],[8.45,2.4],[8.48,2.2],[8.50,2.05],[8.52,2.3],[8.55,2.0],[9.00,3.3],[9.02,2.9],[9.05,3.5],[9.08,3.1],[9.10,3.6],[9.12,2.8],[9.15,3.2],[9.18,2.95],[9.20,1.2],[9.22,1.1],[9.24,0.95],[9.28,3.0],[9.30,2.7],[9.35,2.5],[9.50,2.1],[9.55,2.35],[9.60,1.85],[9.65,2.0],[9.70,2.2],[9.75,2.05],[9.80,1.95],[9.85,2.3],[9.90,2.0],[9.95,2.1],[10.05,1.7],[10.10,1.75],[10.15,1.7],[10.70,1.55],[10.75,2.7],[11.00,4.6],[11.05,4.55],[11.08,4.6],[11.40,4.45],[11.70,1.3],[11.95,2.4],[12.00,2.1],[12.05,1.8],[12.10,2.0],[12.15,2.5],[12.20,2.05],[12.25,2.3],[12.30,1.7],[12.35,2.15],[12.40,2.05],[12.45,2.2],[12.50,2.0],[12.55,2.9],[12.60,3.2],[12.65,3.0],[12.70,3.5],[12.75,3.3],[12.80,3.1],[12.85,2.9],[12.90,3.3],[13.00,1.7],[13.85,1.75],[13.95,1.7],[14.05,1.65],[14.30,2.5],[14.35,2.1],[14.40,2.7],[14.45,3.3],[14.50,4.15],[14.52,4.05],[14.55,3.6],[14.58,3.7],[14.60,3.0],[14.62,2.2],[14.65,2.0],[14.70,2.6],[14.75,2.1],[14.85,1.95],[14.90,2.05],[14.95,1.55],[15.00,2.1],[15.10,2.0],[15.90,1.6],[15.92,1.7],[15.95,2.0],[15.97,2.3],[16.00,1.85],[16.60,2.6],[16.62,2.9],[16.65,2.4],[16.68,2.7],[16.70,2.2],[16.72,3.0],[16.75,2.3],[16.78,2.1],[16.80,2.5],[17.00,1.75],[17.20,1.15],[19.30,1.75],[19.35,2.05],[19.40,2.15],[20.30,2.05],[20.70,2.4],[20.75,2.1],[20.80,2.25],[20.85,1.95],[20.90,2.3],[20.95,2.0],[21.00,2.15],[21.50,1.95],[21.55,2.3],[21.60,2.1],[21.65,2.4],[21.70,2.0],[22.40,1.8],[22.60,2.3],[22.65,2.5],[22.70,2.05],[22.75,2.7],[22.80,2.4],[23.20,1.7]];

const panels = [
  { title: "a) MOSAiC 16-NOV-2019", left: 83, right: 554, lwpMin: 0, iwv: iwvA, lwp: lwpA, cbh: cbhA },
  { title: "b) MOSAiC 17-JAN-2020", left: 701, right: 1172, lwpMin: -18, iwv: iwvB, lwp: lwpB, cbh: cbhB }
];

const plotTop = 39.5, plotBottom = 455;
const black = "#111", red = "#d80000", redText = "#e01010", blue = "#3a3aff";

let svg = d3.select("#chart")
  .append("svg")
  .attr("width", 1238)
  .attr("height", 503);

function styleAxis(g, color) {
  g.select(".domain").remove();
  g.selectAll(".tick line").attr("stroke", "#222").attr("stroke-width", 1.5);
  g.selectAll(".tick text").attr("fill", color).style("font-size", "16px");
}

panels.forEach(p => {
  let x = d3.scaleLinear().domain([0, 24]).range([p.left, p.right]);
  let y = d3.scaleLinear().domain([0, 12]).range([plotBottom, plotTop]);
  let yR = d3.scaleLinear().domain([p.lwpMin, 600]).range([plotBottom, plotTop]);

  let g = svg.append("g");

  // integrated water vapor (short dashes, like the quantised 0.1 mm values)
  g.append("g").selectAll("rect")
    .data(p.iwv)
    .join("rect")
    .attr("x", d => x(d[0]) - 1.6)
    .attr("y", d => y(d[1]) - 1.1)
    .attr("width", 3.2)
    .attr("height", 2.2)
    .attr("fill", black);

  // LWP
  g.append("g").selectAll("rect")
    .data(p.lwp)
    .join("rect")
    .attr("x", d => x(d[0]) - 1.5)
    .attr("y", d => yR(d[1]) - 1.5)
    .attr("width", 3)
    .attr("height", 3)
    .attr("fill", red);

  // cloud base height
  g.append("g").selectAll("circle")
    .data(p.cbh)
    .join("circle")
    .attr("cx", d => x(d[0]))
    .attr("cy", d => y(d[1]))
    .attr("r", 2.1)
    .attr("fill", "#8c8cff")
    .attr("stroke", blue)
    .attr("stroke-width", 1);

  // minor ticks
  g.append("g")
    .attr("transform", `translate(${p.left},0)`)
    .call(d3.axisLeft(y).tickValues(d3.range(0, 12.01, 0.2)).tickSize(-5).tickFormat(""))
    .call(a => styleAxis(a, black));
  g.append("g")
    .attr("transform", `translate(${p.right},0)`)
    .call(d3.axisRight(yR).tickValues(d3.range(0, 600.1, 10)).tickSize(-5).tickFormat(""))
    .call(a => styleAxis(a, black));
  g.append("g")
    .attr("transform", `translate(0,${plotBottom})`)
    .call(d3.axisBottom(x).tickValues(d3.range(0, 24.01, 0.4)).tickSize(-5).tickFormat(""))
    .call(a => styleAxis(a, black));

  // major ticks + labels
  g.append("g")
    .attr("transform", `translate(${p.left},0)`)
    .call(d3.axisLeft(y).tickValues(iwvTicks).tickSize(-10).tickPadding(7))
    .call(a => styleAxis(a, black));
  g.append("g")
    .attr("transform", `translate(${p.right},0)`)
    .call(d3.axisRight(yR).tickValues(lwpTicks).tickSize(-10).tickPadding(7))
    .call(a => styleAxis(a, redText));
  g.append("g")
    .attr("transform", `translate(0,${plotBottom})`)
    .call(d3.axisBottom(x).tickValues(timeTicks).tickSize(-10).tickPadding(5))
    .call(a => styleAxis(a, black));

  // frame
  g.append("rect")
    .attr("x", p.left)
    .attr("y", plotTop)
    .attr("width", p.right - p.left)
    .attr("height", plotBottom - plotTop)
    .attr("fill", "none")
    .attr("stroke", "#222")
    .attr("stroke-width", 2);

  // title
  g.append("text")
    .attr("x", p.left)
    .attr("y", 28)
    .style("font-size", "23px")
    .style("font-weight", "bold")
    .text(p.title);

  // x axis label
  g.append("text")
    .attr("x", (p.left + p.right) / 2)
    .attr("y", 496)
    .attr("text-anchor", "middle")
    .style("font-size", "31px")
    .style("font-weight", "bold")
    .text("time (UTC, decimal)");

  // left axis labels
  g.append("text")
    .attr("transform", `translate(${p.left - 57},447) rotate(-90)`)
    .style("font-size", "22px")
    .style("font-weight", "bold")
    .attr("fill", black)
    .text("integrated water vapor (mm)");
  g.append("text")
    .attr("transform", `translate(${p.left - 32},444) rotate(-90)`)
    .style("font-size", "23px")
    .style("font-weight", "bold")
    .attr("fill", blue)
    .text("ceilometer cloud base height (km)");

  // right axis label
  let lwpLabel = g.append("text")
    .attr("transform", `translate(${p.right + 60},232) rotate(-90)`)
    .attr("text-anchor", "middle")
    .style("font-size", "31px")
    .style("font-weight", "bold")
    .attr("fill", "#cc0000");
  lwpLabel.append("tspan").text("LWP (g m");
  lwpLabel.append("tspan").attr("dy", -12).style("font-size", "18px").text("-2");
  lwpLabel.append("tspan").attr("dy", 12).text(")");
});
</script>
</body>
</html>
